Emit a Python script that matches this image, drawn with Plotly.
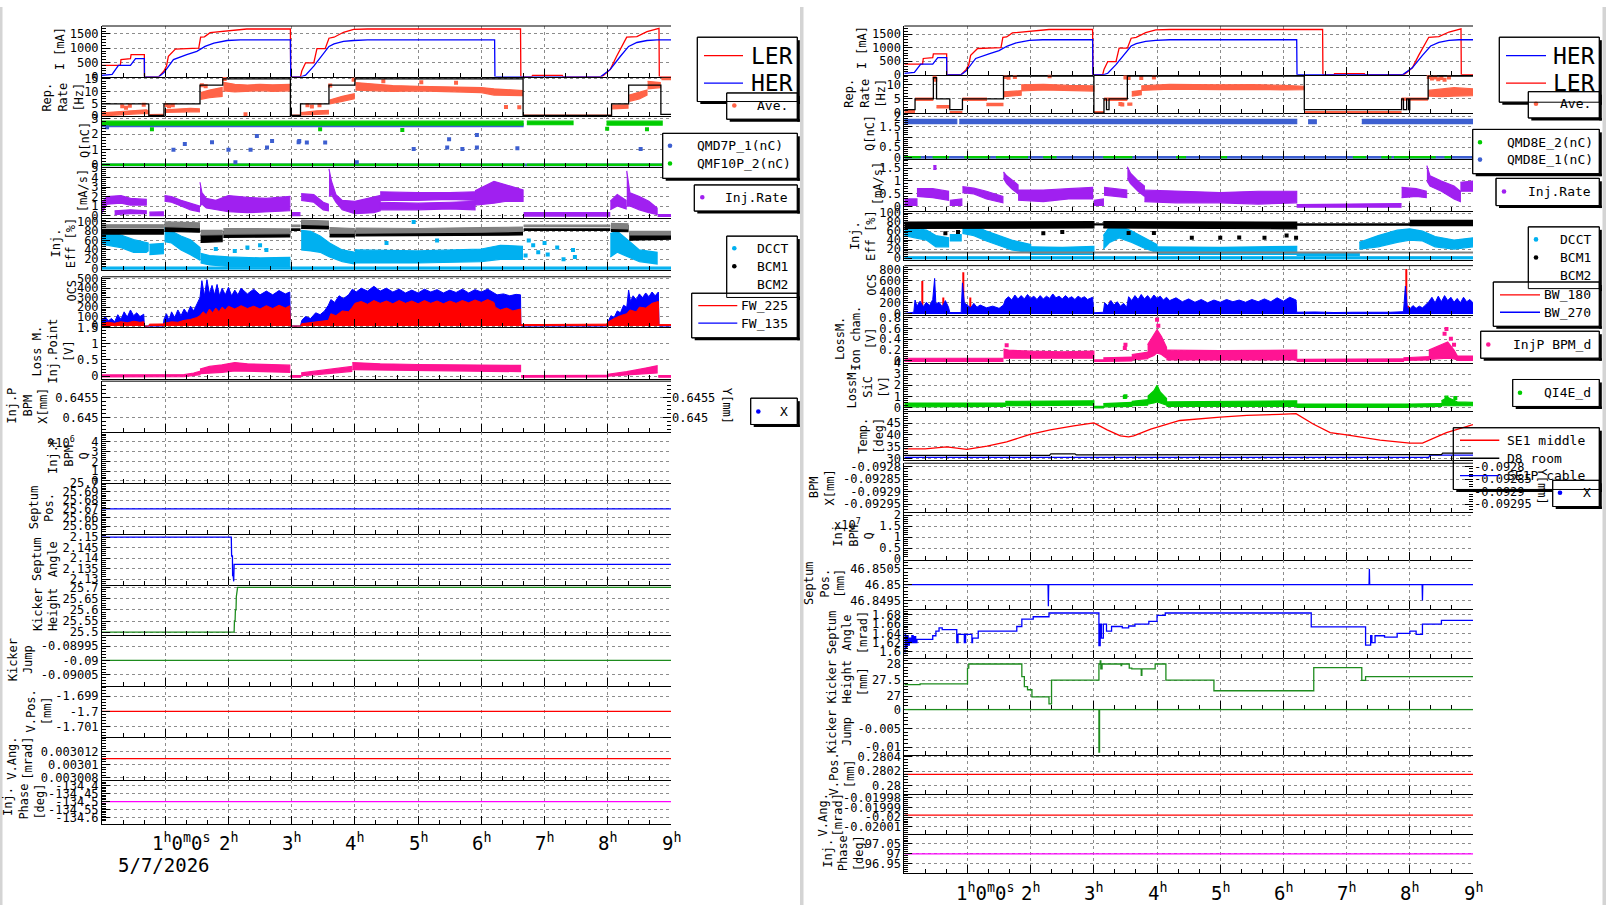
import plotly.graph_objects as go

W, H = 1606, 912
FONT = "DejaVu Sans Mono"

RED = "#ff0000"; BLUE = "#0000ff"; TOMATO = "#ff6347"; QGREEN = "#00cc00"; QBLUE = "#3d5fd0"
PURPLE = "#a020f0"; CYAN = "#00b0f0"; GRAY = "#808080"; PINK = "#ff1493"; KGREEN = "#1e8c1e"
MAGENTA = "#ff00ff"; BLACK = "#000000"; SICGREEN = "#00cc00"; GRID = "#8c8c8c"

# ======================= DATA (time in hours) =======================
LER = [(0,393),(0.29,393),(0.30,600),(0.45,635),(0.46,774),(0.67,774),(0.672,0),(0.90,0),(0.98,196),(1.02,370),
       (1.05,716),(1.16,970),(1.43,990),(1.53,1000),(1.56,1386),(1.62,1400),(1.71,1548),(1.90,1582),(2.03,1605),
       (2.24,1640),(2.29,1675),(2.98,1675),(2.985,0),(3.14,0),(3.16,196),(3.22,485),(3.35,485),(3.40,982),
       (3.53,982),(3.59,1351),(3.67,1386),(3.82,1560),(3.98,1663),(4.2,1675),(6.62,1675),(6.625,0),(6.80,0),
       (6.81,40),(7.28,40),(7.29,0),(7.91,0),(8.04,254),(8.14,716),(8.30,1386),(8.46,1410),(8.62,1582),
       (8.78,1675),(8.81,1700),(8.815,0),(9.0,0)]
HER = [(0,46),(0.16,80),(0.26,393),(0.45,393),(0.53,635),(0.67,635),(0.672,0),(0.90,0),(0.98,139),(1.13,600),
       (1.34,774),(1.50,889),(1.63,1062),(1.77,1178),(1.98,1270),(2.19,1294),(2.98,1294),(2.985,0),(3.16,0),
       (3.22,50),(3.35,370),(3.59,1062),(3.67,1150),(3.82,1236),(3.98,1270),(4.2,1294),(6.21,1294),(6.215,0),
       (7.89,0),(8.04,254),(8.20,716),(8.33,1062),(8.46,1200),(8.62,1270),(8.78,1294),(9.0,1294)]

# ---- left window ----
REP_SET_L = [(0,5),(0.74,0.4),(0.98,5),(1.55,12.5),(1.91,15),(2.98,0.4),(3.14,5),(3.59,12.5),(4.0,15),
             (6.66,0.4),(8.06,5),(8.33,12.5),(8.84,0.8),(9.0,0.8)]
AVE_L = [
    [(0,0.2,1.4),(0.3,0.6,2.0),(0.5,1.0,2.4),(0.7,1.2,2.6),(0.74,1.0,2.2)],
    [(0.75,0.0,0.7),(0.97,0.1,0.8)],
    [(0.99,1.6,2.6),(1.2,1.6,3.0),(1.4,1.8,3.2),(1.54,1.8,3.0)],
    [(1.56,6.8,9.5),(1.7,7.5,10.5),(1.9,8.0,11.5)],
    [(1.92,10.2,13.6),(2.1,9.8,12.8),(2.3,10.0,12.5),(2.5,10.3,12.8),(2.7,10.0,12.6),(2.97,10.2,12.8)],
    [(2.99,0.0,0.5),(3.13,0.0,0.5)],
    [(3.15,0.6,1.5),(3.4,0.8,2.2),(3.58,1.0,2.4)],
    [(3.6,5.0,6.5),(3.8,6.0,8.0),(3.99,7.0,9.0)],
    [(4.01,10.5,13.5),(4.3,10.3,12.8),(4.6,10.0,12.3),(5.0,10.2,12.0),(5.5,9.8,11.8),(6.0,9.5,11.5),
     (6.2,8.5,11.0),(6.65,8.3,10.3)],
    [(6.67,0.0,0.5),(8.05,0.0,0.5)],
    [(8.07,3.0,4.5),(8.32,3.3,4.6)],
    [(8.34,6.0,8.5),(8.5,7.0,9.5),(8.62,8.5,10.5)],
    [(8.63,11.0,14.0),(8.83,11.5,13.5)],
    [(8.85,14.7,15.2),(9.0,14.7,15.2)],
]
AVE_L_OUT = [(0.32,4.0),(0.38,3.4),(0.44,4.2),(0.66,4.6),(1.02,4.5),(1.06,4.0),(1.12,4.4),(1.58,12.4),(1.64,12.0),
             (1.94,14.9),(2.27,0.8),(3.25,4.4),(3.32,3.9),(3.44,4.4),(3.61,12.3),(3.98,14.6),(4.45,14.0),
             (5.05,13.6),(5.6,13.4),(6.39,3.7),(6.6,3.6)]

QB_L_BAND = [[(0,2.5,2.7),(6.66,2.5,2.7)], [(0,-0.05,0.05),(9.0,-0.05,0.05)]]
QG_L_BAND = [[(0,2.6,2.85),(6.66,2.6,2.85)], [(6.72,2.62,2.85),(7.45,2.62,2.85)], [(7.98,2.6,2.85),(8.86,2.6,2.85)],
             [(0,-0.04,0.06),(6.68,-0.04,0.06)], [(6.72,-0.04,0.06),(9.0,-0.04,0.06)]]
QB_L_OUT = [(0.08,2.46),(1.13,0.98),(1.31,1.37),(1.74,1.48),(2.0,0.98),(2.35,0.98),(2.45,1.88),(2.61,1.13),
            (2.69,1.56),(3.11,1.48),(3.12,1.56),(3.24,1.46),(3.53,1.46),(4.93,1.03),(5.46,1.13),(5.49,1.67),
            (5.70,1.03),(5.93,1.95),(5.93,1.13),(6.57,1.09),(8.52,1.03),(2.11,0.17),(4.03,0.17)]
QG_L_OUT = [(0.79,2.33),(3.45,2.33),(4.75,2.27),(7.99,2.36),(8.62,2.33)]

RATE_L = [
    [(0,0.3,1.4),(0.08,1.2,2.0),(0.3,1.3,2.1),(0.45,1.1,1.8),(0.7,1.1,1.7)],
    [(0.2,0.1,0.5),(0.45,0.2,0.6),(0.7,0.2,0.5)],
    [(0.75,0.0,0.35),(0.97,0.0,0.4)],
    [(0.99,1.5,2.1),(1.1,1.4,2.0),(1.25,1.0,1.6),(1.4,0.6,1.3),(1.54,0.4,1.0)],
    [(1.55,1.0,3.5),(1.58,1.2,2.4),(1.65,0.8,1.8),(1.8,0.6,1.6),(2.0,0.4,2.1),(2.3,0.3,1.9),(2.6,0.4,1.8),(2.97,0.5,2.0)],
    [(2.99,0.0,0.3),(3.13,0.0,0.3)],
    [(3.15,1.6,2.3),(3.35,1.4,2.2),(3.5,0.6,1.4),(3.58,0.5,1.2)],
    [(3.59,2.0,4.9),(3.63,2.2,3.6),(3.7,1.4,2.2),(3.8,0.6,1.6),(4.0,0.2,1.5),(4.3,0.3,1.9),(4.4,0.5,2.1)],
    [(4.4,1.6,2.5),(5.0,1.6,2.4),(5.5,1.7,2.4),(5.9,1.6,2.5)],
    [(4.4,0.6,1.4),(5.0,0.6,1.3),(5.5,0.7,1.4),(5.9,0.6,1.5)],
    [(5.9,1.1,2.6),(6.2,1.3,3.6),(6.4,1.5,3.2),(6.66,1.5,2.7)],
    [(6.67,-0.05,0.3),(8.03,-0.05,0.3)],
    [(8.04,0.6,1.5),(8.15,1.0,2.2),(8.29,0.7,1.6)],
    [(8.3,1.0,4.7),(8.35,1.0,2.4),(8.5,0.6,2.0),(8.65,0.3,1.5),(8.78,0.1,0.8)],
    [(8.79,-0.1,0.1),(9.0,-0.1,0.1)],
]

CYAN_L = [
    [(0,52,80),(0.3,45,72),(0.5,35,62),(0.7,35,55),(0.73,38,55)],
    [(0.75,30,52),(0.97,32,54)],
    [(0.99,58,88),(1.1,55,80),(1.25,40,70),(1.4,30,62),(1.55,18,45)],
    [(1.56,12,33),(1.7,8,28),(2.0,5,25),(2.5,5,23),(2.97,5,24)],
    [(3.15,40,82),(3.3,38,80),(3.45,35,70),(3.6,25,55),(3.8,15,40),(4.0,10,35)],
    [(4.0,12,40),(5.0,12,38),(6.0,15,42),(6.3,20,50),(6.65,20,48)],
    [(8.04,25,75),(8.15,35,80),(8.33,25,60),(8.5,15,40),(8.78,10,35)],
    [(0,-2,3),(9.0,-2,3)],
]
CYAN_L_OUT = [(6.7,28),(6.75,60),(6.82,50),(6.9,35),(7.0,55),(7.05,30),(7.2,45),(7.3,20),(7.45,40),(7.48,25),
              (2.3,45),(2.6,40),(5.05,80),(5.3,60),(4.5,55),(1.8,42),(2.1,38),(2.5,50),(4.93,100)]
BLACK_L = [
    [(0,74,84),(0.97,74,84)], [(0.99,80,95),(1.54,78,92)], [(1.56,56,72),(1.9,58,74)],
    [(1.92,67,79),(2.97,68,80)], [(2.99,82,85),(3.13,82,85)], [(3.15,86,99),(3.58,85,97)],
    [(3.6,68,82),(3.99,68,80)], [(4.01,70,83),(6.65,72,84)], [(6.67,82,85),(8.03,82,85)],
    [(8.05,80,93),(8.32,79,92)], [(8.34,61,76),(9.0,63,75)],
]
GRAY_L = [
    [(0,88,94),(0.97,88,94)], [(0.99,90,100),(1.54,88,98)], [(1.56,72,82),(1.9,73,82)],
    [(1.92,74,86),(2.97,75,85)], [(2.99,90,93),(3.13,90,93)], [(3.15,95,104),(3.58,93,102)],
    [(3.6,76,88),(3.99,76,86)], [(4.01,76,87),(5.0,77,86),(6.0,78,88),(6.65,80,89)],
    [(6.67,90,93),(8.03,90,93)], [(8.05,86,97),(8.32,85,96)], [(8.34,72,80),(9.0,72,80)],
]

OCS_BLUE_L = [(0,60),(0.05,100),(0.1,55),(0.15,80),(0.2,45),(0.25,120),(0.3,70),(0.35,150),(0.4,95),(0.45,170),
              (0.5,110),(0.55,140),(0.6,100),(0.66,125),(0.67,0),(0.97,0),(0.98,70),(1.02,130),(1.06,60),(1.1,150),
              (1.15,90),(1.2,170),(1.25,110),(1.3,180),(1.35,130),(1.4,210),(1.45,160),(1.5,240),(1.55,300),
              (1.58,480),(1.62,320),(1.66,490),(1.7,340),(1.74,430),(1.78,330),(1.82,440),(1.86,320),(1.9,400),
              (1.95,330),(2.0,410),(2.05,320),(2.1,380),(2.15,330),(2.2,400),(2.3,340),(2.4,390),(2.5,330),
              (2.6,370),(2.7,330),(2.8,375),(2.9,340),(2.97,360),(2.98,0),(3.14,0),(3.16,60),(3.22,100),(3.3,80),
              (3.38,140),(3.45,120),(3.52,160),(3.58,220),(3.62,280),(3.68,250),(3.75,320),(3.82,290),(3.9,330),
              (3.96,390),(4.02,360),(4.1,400),(4.2,370),(4.3,420),(4.4,370),(4.5,400),(4.6,360),(4.7,390),
              (4.8,350),(4.9,380),(5.0,350),(5.1,390),(5.2,360),(5.3,385),(5.4,350),(5.5,380),(5.6,355),(5.7,390),
              (5.8,350),(5.9,385),(6.0,360),(6.1,390),(6.2,350),(6.25,330),(6.35,340),(6.45,320),(6.55,335),
              (6.62,330),(6.625,0),(7.98,0),(8.0,40),(8.05,110),(8.1,90),(8.15,160),(8.2,140),(8.25,220),(8.3,200),
              (8.33,380),(8.36,260),(8.4,320),(8.45,280),(8.5,340),(8.55,300),(8.6,350),(8.65,310),(8.7,360),
              (8.75,320),(8.8,360),(8.81,0),(9.0,0)]
OCS_RED_L = [(0,30),(0.1,40),(0.2,30),(0.3,45),(0.4,35),(0.5,50),(0.6,40),(0.66,45),(0.67,0),(0.74,0),(0.75,20),
             (0.97,22),(0.98,30),(1.1,45),(1.2,40),(1.3,60),(1.4,70),(1.5,90),(1.55,110),(1.6,150),(1.65,120),
             (1.7,180),(1.75,140),(1.8,190),(1.85,150),(1.9,200),(1.95,170),(2.0,210),(2.1,180),(2.2,215),
             (2.3,185),(2.4,210),(2.5,180),(2.6,215),(2.7,185),(2.8,220),(2.9,190),(2.97,215),(2.98,0),(3.14,0),
             (3.16,25),(3.3,35),(3.45,50),(3.58,60),(3.62,130),(3.7,110),(3.8,160),(3.9,150),(3.96,200),(4.0,240),
             (4.1,260),(4.2,230),(4.3,270),(4.4,240),(4.5,265),(4.6,235),(4.7,270),(4.8,240),(4.9,265),(5.0,235),
             (5.1,270),(5.2,240),(5.3,265),(5.4,235),(5.5,265),(5.6,240),(5.7,270),(5.8,245),(5.9,275),(6.0,250),
             (6.1,280),(6.2,250),(6.22,200),(6.3,170),(6.4,190),(6.5,160),(6.62,180),(6.625,15),(7.98,20),
             (8.0,40),(8.1,80),(8.2,110),(8.3,130),(8.35,170),(8.45,150),(8.5,200),(8.6,190),(8.7,240),(8.8,260),
             (8.81,15),(9.0,15)]

LOSS_L = [
    [(0,-0.02,0.04),(1.3,-0.01,0.05),(1.45,0.02,0.1),(1.55,0.05,0.15)],
    [(1.55,0.08,0.22),(1.7,0.1,0.3),(1.9,0.12,0.35),(2.1,0.16,0.42),(2.3,0.15,0.38),(2.6,0.14,0.36),(2.97,0.12,0.34)],
    [(2.98,-0.03,0.02),(3.14,-0.03,0.02)],
    [(3.15,0.02,0.1),(3.4,0.05,0.16),(3.6,0.08,0.2),(3.95,0.15,0.3)],
    [(3.96,0.2,0.42),(4.4,0.18,0.38),(5.0,0.17,0.36),(5.6,0.16,0.35),(6.2,0.15,0.35),(6.62,0.14,0.33)],
    [(6.63,-0.03,0.02),(8.0,-0.02,0.03)],
    [(8.0,0.0,0.06),(8.3,0.04,0.14),(8.6,0.08,0.25),(8.78,0.1,0.32)],
    [(8.8,-0.03,0.02),(9.0,-0.03,0.02)],
]

SEPT_POS_L = [(0,25.670),(9.0,25.670)]
SEPT_ANG_L = [(0,2.15),(2.045,2.15),(2.05,2.141),(2.063,2.141),(2.066,2.1317),(2.075,2.1317),(2.083,2.1289),
              (2.09,2.137),(9.0,2.137)]
KICK_H_L = [(0,25.5),(2.09,25.5),(2.095,25.55),(2.105,25.55),(2.11,25.6),(2.12,25.6),(2.125,25.66),
            (2.14,25.68),(2.145,25.7),(9.0,25.7)]
KICK_J_L = [(0,-0.09),(9.0,-0.09)]
VPOS_L = [(0,-1.7),(9.0,-1.7)]
VANG_L = [(0,0.0030109),(9.0,0.0030109)]
PHASE_L = [(0,-134.5),(9.0,-134.5)]

# ---- right window ----
REP_SET_R = [(0,1.2),(0.17,5),(0.46,12.5),(0.51,5),(0.72,1.2),(0.92,5),(1.57,13.1),(3.0,0),(3.16,5),(3.2,1.2),
             (3.24,5),(3.53,13.1),(6.33,1.2),(7.87,5),(7.9,1.2),(7.95,5),(7.98,1.2),(8.0,5),(8.29,13.1),(9.0,13.1)]
AVE_R = [
    [(0,0.2,1.2),(0.16,0.2,1.2)], [(0.17,4.5,5.3),(0.45,4.5,5.3)], [(0.51,1.8,2.6),(0.71,1.8,2.6)],
    [(0.72,0.0,0.5),(0.91,0.0,0.5)], [(0.92,4.5,5.3),(1.3,4.5,5.3)], [(1.3,2.6,3.4),(1.56,2.6,3.4)],
    [(1.57,5.8,7.5),(1.85,6.3,7.9)], [(1.85,7.8,10.0),(2.2,8.2,10.2),(2.6,8.0,9.8),(3.0,7.8,9.6)],
    [(3.0,0.0,0.5),(3.15,0.0,0.5)], [(3.16,4.5,5.3),(3.52,4.5,5.3)], [(3.53,2.8,3.5),(3.6,2.8,3.5)],
    [(3.6,6.0,7.6),(3.75,6.5,8.0)],
    [(3.75,8.0,9.6),(4.2,8.5,10.2),(5.0,8.3,10.0),(5.5,8.4,10.1),(6.0,8.2,9.8),(6.33,8.3,9.5)],
    [(6.33,0.0,0.5),(7.86,0.0,0.5)], [(7.87,4.6,5.3),(8.28,4.6,5.3)],
    [(8.29,6.0,8.0),(8.5,5.8,8.4),(8.7,6.0,9.0),(9.0,6.2,8.6)],
]
AVE_R_OUT = [(0.48,12.5),(0.49,11.8),(1.6,12.8),(1.65,12.5),(1.75,12.8),(2.3,13.0),(3.5,12.6),(3.55,12.4),
             (3.75,12.4),(3.95,12.6),(8.3,12.8),(8.35,12.2),(8.4,12.6),(8.45,12.0),(8.5,12.4),(8.55,11.8),
             (8.62,12.6),(3.42,3.2),(3.45,3.0)]

QB_R_BAND = [[(0,1.66,1.87),(0.83,1.66,1.87)], [(0.87,1.66,1.87),(6.21,1.66,1.87)],
             [(6.39,1.66,1.85),(6.52,1.66,1.85)], [(7.24,1.66,1.87),(9.0,1.66,1.87)],
             [(0,-0.04,0.04),(9.0,-0.04,0.04)]]
QG_R_BAND = [[(0.0,-0.03,0.04),(0.25,-0.03,0.04)], [(0.45,-0.03,0.04),(0.7,-0.03,0.04)],
             [(0.95,-0.03,0.04),(1.35,-0.03,0.04)], [(1.45,-0.03,0.04),(1.95,-0.03,0.04)],
             [(2.2,-0.03,0.04),(2.4,-0.03,0.04)], [(3.15,-0.03,0.04),(3.6,-0.03,0.04)],
             [(4.3,-0.03,0.04),(4.45,-0.03,0.04)], [(5.0,-0.03,0.04),(5.1,-0.03,0.04)],
             [(7.1,-0.03,0.04),(7.3,-0.03,0.04)], [(7.55,-0.03,0.04),(7.7,-0.03,0.04)],
             [(7.75,-0.03,0.04),(8.4,-0.03,0.04)], [(8.55,-0.03,0.04),(8.65,-0.03,0.04)]]

RATE_R = [
    [(0,0.05,0.3),(0.2,0.05,0.3)],
    [(0.2,0.4,0.7),(0.45,0.35,0.7),(0.7,0.25,0.6)],
    [(0.46,1.45,1.6),(0.5,1.45,1.6)],
    [(0.72,0.05,0.25),(0.91,0.05,0.3)],
    [(0.92,0.55,0.78),(1.1,0.5,0.72),(1.3,0.3,0.6),(1.56,0.15,0.4)],
    [(1.57,1.1,1.35),(1.62,0.9,1.2),(1.7,0.7,1.05),(1.8,0.5,0.85)],
    [(1.8,0.25,0.65),(2.2,0.2,0.65),(2.6,0.3,0.7),(2.98,0.3,0.75)],
    [(3.0,0.05,0.25),(3.15,0.05,0.3)],
    [(3.16,0.45,0.75),(3.52,0.35,0.65)],
    [(3.53,1.1,1.55),(3.58,0.9,1.3),(3.7,0.6,1.0),(3.8,0.4,0.8)],
    [(3.8,0.2,0.65),(4.3,0.15,0.6),(5.0,0.15,0.55),(5.6,0.1,0.6),(6.21,0.15,0.6)],
    [(6.21,-0.02,0.08),(7.86,-0.02,0.12)],
    [(7.87,0.35,0.75),(8.1,0.4,0.7),(8.26,0.35,0.6)],
    [(8.27,1.0,1.6),(8.32,0.8,1.2),(8.5,0.6,1.0),(8.7,0.3,0.8),(8.8,0.2,0.6)],
    [(8.8,0.6,0.95),(9.0,0.6,1.0)],
]

CYAN_R = [
    [(0,50,68),(0.17,45,66),(0.35,40,62),(0.5,25,50),(0.7,25,45)],
    [(0.72,38,52),(0.9,38,52)],
    [(0.92,55,75),(1.1,50,72),(1.3,38,60),(1.5,28,50),(1.7,18,40),(2.0,12,30)],
    [(2.0,8,25),(2.5,8,24),(3.0,8,26)],
    [(3.15,20,50),(3.25,35,70),(3.4,45,72),(3.6,35,60),(3.8,22,45),(4.0,12,30)],
    [(4.0,8,25),(5.0,8,24),(6.21,8,26)],
    [(6.21,6,10),(7.2,6,10)],
    [(7.2,20,35),(7.5,25,50),(7.8,35,62),(8.0,40,65),(8.2,38,60),(8.4,25,48),(8.7,20,40),(9.0,25,45)],
    [(0,-2,3),(9.0,-2,3)],
]
BLACK_R = [[(0,66,80),(3.0,67,81)], [(3.0,74,76),(3.15,74,76)], [(3.15,67,81),(6.21,65,80)],
           [(6.21,73,76),(8.0,73,76)], [(8.0,72,84),(9.0,72,84)]]
BLACK_R_OUT = [(0.65,55),(0.85,58),(2.2,55),(2.5,58),(3.55,56),(3.95,56),(4.55,45),(5.0,45),(5.3,46),(5.7,45),
               (6.05,50),(6.2,45)]
GRAY_R = [[(0,11.5,13.5),(9.0,11.5,13.5)]]

OCS_BLUE_R = [(0,10),(0.15,30),(0.17,250),(0.2,140),(0.25,230),(0.3,130),(0.35,210),(0.4,150),(0.45,260),
              (0.48,640),(0.5,180),(0.55,210),(0.6,130),(0.65,240),(0.7,120),(0.72,25),(0.9,25),(0.92,560),
              (0.95,200),(1.0,160),(1.05,110),(1.1,190),(1.15,120),(1.2,160),(1.3,110),(1.4,140),(1.5,100),
              (1.57,160),(1.6,260),(1.65,310),(1.7,250),(1.75,340),(1.8,270),(1.85,330),(1.9,270),(1.95,350),
              (2.0,280),(2.05,320),(2.1,260),(2.15,330),(2.2,270),(2.25,320),(2.3,280),(2.35,360),(2.4,290),
              (2.45,320),(2.5,270),(2.55,330),(2.6,280),(2.65,310),(2.7,260),(2.75,320),(2.8,280),(2.85,310),
              (2.9,260),(2.98,300),(3.0,20),(3.15,30),(3.17,200),(3.22,150),(3.27,240),(3.32,160),(3.37,220),
              (3.42,140),(3.47,190),(3.52,120),(3.55,310),(3.6,240),(3.65,330),(3.7,260),(3.75,350),(3.8,270),
              (3.85,330),(3.9,260),(3.95,340),(4.0,280),(4.05,320),(4.1,250),(4.15,300),(4.2,240),(4.3,290),
              (4.4,220),(4.5,270),(4.6,210),(4.7,260),(4.8,200),(4.9,250),(5.0,210),(5.1,260),(5.2,220),
              (5.3,250),(5.4,210),(5.5,260),(5.6,220),(5.7,270),(5.8,220),(5.9,290),(6.0,230),(6.1,300),
              (6.2,250),(6.21,30),(6.5,35),(6.8,25),(7.1,30),(7.4,25),(7.7,30),(7.9,40),(7.93,500),(7.96,120),
              (8.0,90),(8.05,150),(8.1,100),(8.15,140),(8.2,110),(8.25,160),(8.3,220),(8.35,300),(8.4,200),
              (8.45,320),(8.5,220),(8.55,330),(8.6,240),(8.65,300),(8.7,210),(8.75,280),(8.8,200),(8.85,300),
              (8.9,220),(8.95,260),(9.0,200)]
OCS_RED_R = [(0.28,592),(0.62,296),(0.94,752),(1.05,296),(1.7,90),(2.3,80),(2.45,70),(3.26,237),(3.63,90),
             (7.95,810),(7.98,148),(8.05,89),(8.6,80),(8.75,90)]

ION_R = [
    [(0,-0.01,0.05),(1.56,-0.01,0.05)],
    [(1.57,0.05,0.22),(1.65,0.06,0.2),(2.0,0.05,0.18),(2.5,0.05,0.17),(3.0,0.05,0.18)],
    [(3.0,-0.01,0.02),(3.15,-0.01,0.02)],
    [(3.15,-0.01,0.06),(3.6,0.0,0.07)],
    [(3.6,0.02,0.12),(3.85,0.04,0.16)],
    [(3.85,0.05,0.3),(3.95,0.1,0.5),(4.0,0.15,0.58),(4.07,0.12,0.45),(4.15,0.05,0.25)],
    [(4.15,0.02,0.2),(5.0,0.02,0.19),(6.21,0.02,0.2)],
    [(6.21,-0.01,0.03),(7.9,-0.01,0.04)],
    [(7.9,0.01,0.06),(8.3,0.02,0.08)],
    [(8.3,0.03,0.2),(8.5,0.04,0.3),(8.6,0.05,0.35),(8.7,0.04,0.2),(8.75,0.02,0.1)],
    [(8.75,0.01,0.09),(9.0,0.01,0.09)],
]
ION_R_OUT = [(1.62,0.29),(3.49,0.24),(3.5,0.3),(4.0,0.76),(4.02,0.65),(8.58,0.59),(8.55,0.5),(8.65,0.41),(8.7,0.3)]

SIC_R = [
    [(0,0.05,0.4),(1.6,0.1,0.4)],
    [(1.6,0.15,0.55),(3.0,0.2,0.6)],
    [(3.0,-0.05,0.1),(3.15,-0.05,0.1)],
    [(3.15,0.05,0.35),(3.6,0.1,0.45)],
    [(3.6,0.15,0.55),(3.85,0.2,0.7)],
    [(3.85,0.3,1.0),(3.95,0.4,1.5),(4.0,0.5,2.0),(4.05,0.4,1.4),(4.15,0.2,0.8)],
    [(4.15,0.1,0.5),(5.0,0.1,0.55),(6.21,0.1,0.6)],
    [(6.21,0.0,0.3),(8.0,0.0,0.3)],
    [(8.0,0.05,0.3),(8.5,0.1,0.35)],
    [(8.5,0.15,0.6),(8.6,0.2,0.9),(8.75,0.15,0.5),(9.0,0.15,0.45)],
]
SIC_R_OUT = [(3.49,0.95),(3.5,1.0),(8.58,0.9),(8.72,0.85)]

TEMP_SE1 = [(0,34.0),(0.33,34.0),(0.67,34.9),(0.99,33.8),(1.31,35.2),(1.62,37.0),(1.99,40.3),(2.31,42.2),
            (2.68,43.9),(3.0,45.2),(3.21,42.2),(3.42,39.6),(3.55,39.2),(3.63,39.6),(3.9,42.5),(4.2,45.0),
            (4.36,46.2),(5.0,47.6),(5.42,48.4),(5.94,48.8),(6.2,49.1),(6.47,44.7),(6.74,41.0),(7.0,40.0),
            (7.53,37.8),(8.0,36.5),(8.2,36.5),(8.58,41.0),(8.9,43.7),(9.0,44.4)]
TEMP_D8 = [(0,31.3),(2.3,31.3),(2.32,31.9),(2.7,31.9),(2.72,31.5),(6.2,31.5),(6.22,31.3),(8.0,31.3),
           (8.02,31.6),(8.5,31.6),(8.52,32.2),(9.0,32.2)]
TEMP_CABLE = [(0,30.4),(8.3,30.4),(8.32,31.4),(9.0,31.4)]

SEPT_POS_R = [(0,46.85),(2.275,46.85),(2.28,46.84932),(2.285,46.85),(7.355,46.85),(7.36,46.8505),(7.365,46.85),
              (8.195,46.85),(8.2,46.8495),(8.205,46.85),(9.0,46.85)]
SEPT_ANG_R = [(0,1.60),(0.01,1.64),(0.02,1.61),(0.04,1.635),(0.06,1.615),(0.08,1.63),(0.1,1.62),(0.12,1.635),
              (0.14,1.62),(0.16,1.633),(0.18,1.62),(0.2,1.627),(0.45,1.635),(0.5,1.645),(0.55,1.652),(0.6,1.648),
              (0.83,1.62),(0.85,1.638),(0.95,1.62),(0.97,1.638),(1.07,1.62),(1.08,1.63),(1.17,1.645),(1.78,1.655),
              (1.86,1.671),(2.04,1.676),(2.29,1.684),(3.08,1.614),(3.1,1.66),(3.12,1.63),(3.15,1.66),(3.2,1.645),
              (3.28,1.655),(3.45,1.652),(3.55,1.656),(3.65,1.66),(3.87,1.666),(4.0,1.679),(4.13,1.684),
              (6.44,1.654),(7.3,1.615),(7.38,1.635),(7.4,1.62),(7.45,1.635),(7.6,1.632),(7.8,1.64),(8.0,1.645),
              (8.1,1.638),(8.2,1.66),(8.5,1.668),(9.0,1.668)]
KICK_H_R = [(0,27.36),(0.25,27.38),(1.0,27.87),(1.02,28.0),(1.86,27.61),(1.9,27.3),(1.95,27.2),(2.02,26.98),
            (2.29,26.76),(2.33,27.5),(3.08,28.0),(3.1,28.1),(3.11,27.85),(3.13,28.0),(3.43,27.95),(3.44,28.0),
            (3.56,27.87),(3.6,27.85),(3.75,27.65),(3.76,27.85),(3.97,28.0),(4.14,27.5),(4.9,27.17),(6.48,27.89),
            (7.24,27.49),(7.3,27.61),(9.0,27.61)]
KICK_J_R = [(0,0.0),(3.08,-0.0113),(3.09,0.0),(9.0,0.0)]
VPOS_R = [(0,0.280156),(9.0,0.280156)]
VANG_R = [(0,-0.019998),(9.0,-0.019998)]
PHASE_R = [(0,97.0),(9.0,97.0)]

HOURS = [0, 1, 2, 3, 4, 5, 6, 7, 8, 9]

# ======================= LAYOUT CONFIG =======================
COLS = {"L": (102.0, 671.0), "R": (904.3, 1473.0)}
PANELS = [
    dict(key="L1", col="L", top=19.3, bot=70.7, yr=[0, 1780], tv=[0, 500, 1000, 1500], mdt=100),
    dict(key="L2", col="L", top=70.7, bot=111, yr=[0, 15.9], tv=[0, 5, 10, 15], mdt=1),
    dict(key="L3", col="L", top=111, bot=163, yr=[-0.17, 3.17], tv=[0, 1, 2, 3], mdt=0.2),
    dict(key="L4", col="L", top=163, bot=214.7, yr=[-0.3, 5.05], tv=[0, 1, 2, 3, 4, 5], mdt=0.2),
    dict(key="L5", col="L", top=214.7, bot=266.7, yr=[-2.1, 107.6], tv=[0, 20, 40, 60, 80, 100], mdt=4),
    dict(key="L6", col="L", top=274, bot=325.3, yr=[-13.5, 521], tv=[0, 100, 200, 300, 400, 500], mdt=20),
    dict(key="L7", col="L", top=325.3, bot=378.3, yr=[-0.1, 1.5], tv=[0, 0.5, 1, 1.5], mdt=0.1),
    dict(key="L8", col="L", top=380, bot=431.7, yr=[0.644625, 0.64592], tv=[0.645, 0.6455], mdt=0.0001),
    dict(key="L9", col="L", top=431.7, bot=483, yr=[-0.17, 5.0], tv=[0, 1, 2, 3, 4], mdt=0.2),
    dict(key="L10", col="L", top=483, bot=535, yr=[25.641, 25.7006], tv=[25.65, 25.66, 25.67, 25.68, 25.69, 25.7], mdt=0.002),
    dict(key="L11", col="L", top=535, bot=586.7, yr=[2.1273, 2.1516], tv=[2.13, 2.135, 2.14, 2.145, 2.15], mdt=0.001),
    dict(key="L12", col="L", top=586.7, bot=637.7, yr=[25.488, 25.712], tv=[25.5, 25.55, 25.6, 25.65, 25.7], mdt=0.01),
    dict(key="L13", col="L", top=637.7, bot=689.3, yr=[-0.0900875, -0.0899114], tv=[-0.09005, -0.09, -0.08995], mdt=0.00001),
    dict(key="L14", col="L", top=689.3, bot=741.3, yr=[-1.70167, -1.69831], tv=[-1.701, -1.7, -1.699], mdt=0.0002),
    dict(key="L15", col="L", top=741.3, bot=785, yr=[0.00300765, 0.0030142], tv=[0.003008, 0.00301, 0.003012], mdt=0.0000004),
    dict(key="L16", col="L", top=785, bot=829.3, yr=[-134.636, -134.366], tv=[-134.6, -134.55, -134.5, -134.45, -134.4], mdt=0.01),
    dict(key="R1", col="R", top=19.3, bot=68.7, yr=[0, 1805], tv=[0, 500, 1000, 1500], mdt=100),
    dict(key="R2", col="R", top=68.7, bot=107.7, yr=[0, 13.6], tv=[0, 5, 10], mdt=1),
    dict(key="R3", col="R", top=107.7, bot=154, yr=[-0.065, 2.18], tv=[0, 0.5, 1, 1.5, 2], mdt=0.1),
    dict(key="R4", col="R", top=154, bot=206.7, yr=[-0.15, 1.87], tv=[0, 0.5, 1, 1.5], mdt=0.1),
    dict(key="R5", col="R", top=206.7, bot=256.7, yr=[-3.7, 105.7], tv=[0, 20, 40, 60, 80, 100], mdt=4),
    dict(key="R6", col="R", top=262.7, bot=312.7, yr=[-18, 870], tv=[0, 200, 400, 600, 800], mdt=40),
    dict(key="R7", col="R", top=312.7, bot=361.7, yr=[-0.04, 0.85], tv=[0, 0.2, 0.4, 0.6, 0.8], mdt=0.04),
    dict(key="R8", col="R", top=361.7, bot=410.7, yr=[-0.36, 4.0], tv=[0, 1, 2, 3, 4], mdt=0.2),
    dict(key="R9", col="R", top=410.7, bot=460, yr=[29.3, 50.1], tv=[30, 35, 40, 45], mdt=1),
    dict(key="R10", col="R", top=463.3, bot=512.7, yr=[-0.09298, -0.092787], tv=[-0.09295, -0.0929, -0.09285, -0.0928], mdt=0.00001),
    dict(key="R11", col="R", top=512.7, bot=561.7, yr=[-0.04, 2.15], tv=[0, 0.5, 1, 1.5, 2], mdt=0.1),
    dict(key="R12", col="R", top=561.7, bot=611.7, yr=[46.84922, 46.85078], tv=[46.8495, 46.85, 46.8505], mdt=0.0001),
    dict(key="R13", col="R", top=611.7, bot=660.7, yr=[1.588, 1.692], tv=[1.6, 1.62, 1.64, 1.66, 1.68], mdt=0.004),
    dict(key="R14", col="R", top=660.7, bot=712.7, yr=[26.61, 28.2], tv=[27, 27.5, 28], mdt=0.1),
    dict(key="R15", col="R", top=712.7, bot=759.3, yr=[-0.012, 0.0002], tv=[-0.01, -0.005, 0], mdt=0.001),
    dict(key="R16", col="R", top=759.3, bot=799.3, yr=[0.27988, 0.280432], tv=[0.28, 0.2802, 0.2804], mdt=0.00004),
    dict(key="R17", col="R", top=799.3, bot=840, yr=[-0.0200176, -0.019976], tv=[-0.02001, -0.02, -0.01999, -0.01998], mdt=0.000002),
    dict(key="R18", col="R", top=840, bot=880, yr=[96.9, 97.1], tv=[96.95, 97, 97.05], mdt=0.01),
]
# panels whose top edge is not shared with the panel above
TOP_EDGE = ["L1", "L6", "L8", "R1", "R6", "R10"]
TITLES = [
    ("L1", "I [mA]", 60, 42), ("L2", "Rep.<br>Rate<br>[Hz]", 63, 91), ("L3", "Q[nC]", 85, 135),
    ("L4", "[mA/s]", 83, 187), ("L5", "Inj.<br>Eff [%]", 64, 240), ("L6", "OCS", 72, 288),
    ("L7", "Loss M.<br>Inj.Point<br>[V]", 53, 350), ("L8", "Inj.P<br>BPM<br>X[mm]", 28, 405),
    ("L9", "Inj.P<br>BPM<br>Q", 68, 456), ("L10", "Septum<br>Pos.", 42, 509), ("L11", "Septum<br>Angle", 45.5, 561),
    ("L12", "Kicker<br>Height", 45.5, 612), ("L13", "Kicker<br>Jump", 20.5, 663), ("L14", "V.Pos.<br>[mm]", 39.5, 715),
    ("L15", "V.Ang.<br>[mrad]", 20.5, 763), ("L16", "Inj.<br>Phase<br>[deg]", 24, 807),
    ("R1", "I [mA]", 862, 42), ("R2", "Rep.<br>Rate<br>[Hz]", 865, 88), ("R3", "Q[nC]", 870, 128),
    ("R4", "[mA/s]", 878, 180), ("R5", "Inj.<br>Eff [%]", 863.5, 232), ("R6", "OCS", 872, 282),
    ("R7", "LossM.<br>Ion cham.<br>[V]", 856, 337), ("R8", "LossM.<br>SiC<br>[V]", 867.5, 386),
    ("R9", "Temp.<br>[deg]", 871.5, 435), ("R10", "BPM<br>X[mm]", 822, 488), ("R11", "Inj<br>BPM<br>Q", 854, 537),
    ("R12", "Septum<br>Pos.<br>[mm]", 824, 586), ("R13", "Septum<br>Angle<br>[mrad]", 847, 636),
    ("R14", "Kicker<br>Height<br>[mm]", 847, 686), ("R15", "Kicker<br>Jump", 839.5, 736),
    ("R16", "V.Pos.<br>[mm]", 842.5, 779), ("R17", "V.Ang.<br>[mrad]", 831, 820),
    ("R18", "Inj.<br>Phase<br>[deg]", 843.5, 860),
]


def px(x):
    return x / W


def py(y):
    return 1 - y / H


fig = go.Figure()
lay = dict(width=W, height=H, margin=dict(l=0, r=0, t=0, b=0, pad=0), paper_bgcolor="white",
           plot_bgcolor="white", showlegend=False, font=dict(family=FONT, size=12, color="black"),
           barmode="overlay", hovermode=False)
AX, PD = {}, {}
for i, p in enumerate(PANELS, start=1):
    s = "" if i == 1 else str(i)
    x0, x1 = COLS[p["col"]]
    lay["xaxis" + s] = dict(
        domain=[x0 / W, x1 / W], range=[0, 9], anchor="y" + s, tickmode="array", tickvals=HOURS,
        showticklabels=False, ticks="inside", ticklen=8, tickwidth=1, tickcolor="black",
        minor=dict(ticks="inside", ticklen=4, tickwidth=1, tickcolor="black", tickmode="linear", tick0=0,
                   dtick=1 / 3, showgrid=False),
        showgrid=True, gridcolor=GRID, griddash="3px,3px", gridwidth=1, showline=True, linecolor="black",
        linewidth=1, mirror=False, zeroline=False, fixedrange=True)
    lay["yaxis" + s] = dict(
        domain=[py(p["bot"]), py(p["top"])], range=p["yr"], anchor="x" + s, tickmode="array",
        tickvals=p["tv"], ticktext=[f"{v:g}" for v in p["tv"]], ticks="inside", ticklen=8, tickwidth=1,
        tickcolor="black",
        minor=dict(ticks="inside", ticklen=4, tickwidth=1, tickcolor="black", tickmode="linear",
                   tick0=p["tv"][0], dtick=p["mdt"], showgrid=False),
        showgrid=True, gridcolor=GRID, griddash="3px,3px", gridwidth=1, showline=True, linecolor="black",
        linewidth=1, zeroline=False, fixedrange=True, tickfont=dict(size=12, family=FONT))
    AX[p["key"]] = ("x" + s, "y" + s)
    PD[p["key"]] = p
    fig.add_trace(go.Scatter(x=[None], y=[None], xaxis="x" + s, yaxis="y" + s, mode="lines"))

# right-side Y axes for the BPM X panels
k = len(PANELS)
for key in ["L8", "R10"]:
    k += 1
    xa, ya = AX[key]
    p = PD[key]
    lay["yaxis%d" % k] = dict(
        overlaying=ya, side="right", anchor=xa, range=p["yr"], tickmode="array", tickvals=p["tv"],
        ticktext=[f"{v:g}" for v in p["tv"]], ticks="inside", ticklen=8, tickcolor="black",
        minor=dict(ticks="inside", ticklen=4, tickcolor="black", tickmode="linear", tick0=p["tv"][0], dtick=p["mdt"], showgrid=False),
        showgrid=False, showline=False, zeroline=False, fixedrange=True, tickfont=dict(size=12, family=FONT))
    fig.add_trace(go.Scatter(x=[None], y=[None], xaxis=xa, yaxis="y%d" % k, mode="lines"))


def unz(pairs):
    return [a for a, _ in pairs], [b for _, b in pairs]


def line(key, pairs, color, width=1.3, shape="linear"):
    xa, ya = AX[key]
    t, v = unz(pairs)
    fig.add_trace(go.Scatter(x=t, y=v, mode="lines", line=dict(color=color, width=width, shape=shape),
                             xaxis=xa, yaxis=ya))


def area(key, pairs, color):
    xa, ya = AX[key]
    t, v = unz(pairs)
    fig.add_trace(go.Scatter(x=t, y=v, mode="lines", fill="tozeroy", fillcolor=color,
                             line=dict(color=color, width=1), xaxis=xa, yaxis=ya))


def band(key, segs, color):
    xa, ya = AX[key]
    xs, ys = [], []
    for seg in segs:
        t = [s[0] for s in seg]
        lo = [s[1] for s in seg]
        hi = [s[2] for s in seg]
        xs += t + t[::-1] + [None]
        ys += hi + lo[::-1] + [None]
    fig.add_trace(go.Scatter(x=xs, y=ys, mode="lines", fill="toself", fillcolor=color,
                             line=dict(color=color, width=1.2), xaxis=xa, yaxis=ya))


def pts(key, pairs, color, size=4):
    xa, ya = AX[key]
    t, v = unz(pairs)
    fig.add_trace(go.Scatter(x=t, y=v, mode="markers", marker=dict(symbol="square", size=size, color=color, line=dict(width=0)),
                             xaxis=xa, yaxis=ya))


def bars(key, pairs, color):
    xa, ya = AX[key]
    t, v = unz(pairs)
    fig.add_trace(go.Bar(x=t, y=v, width=0.018, marker=dict(color=color, line=dict(width=0)), xaxis=xa, yaxis=ya))


# ---------------- left window traces ----------------
line("L1", LER, RED); line("L1", HER, BLUE)
band("L2", AVE_L, TOMATO); pts("L2", AVE_L_OUT, TOMATO); line("L2", REP_SET_L, BLACK, 1.3, "hv")
band("L3", QB_L_BAND, QBLUE); band("L3", QG_L_BAND, QGREEN); pts("L3", QG_L_OUT, QGREEN); pts("L3", QB_L_OUT, QBLUE)
band("L4", RATE_L, PURPLE)
band("L5", CYAN_L, CYAN); pts("L5", CYAN_L_OUT, CYAN); band("L5", BLACK_L, BLACK); band("L5", GRAY_L, GRAY)
area("L6", OCS_BLUE_L, BLUE); area("L6", OCS_RED_L, RED)
band("L7", LOSS_L, PINK)
line("L10", SEPT_POS_L, BLUE); line("L11", SEPT_ANG_L, BLUE); line("L12", KICK_H_L, KGREEN)
line("L13", KICK_J_L, KGREEN); line("L14", VPOS_L, RED); line("L15", VANG_L, RED); line("L16", PHASE_L, MAGENTA)

# ---------------- right window traces ----------------
line("R1", LER, RED); line("R1", HER, BLUE)
band("R2", AVE_R, TOMATO); pts("R2", AVE_R_OUT, TOMATO); line("R2", REP_SET_R, BLACK, 1.3, "hv")
band("R3", QB_R_BAND, QBLUE); band("R3", QG_R_BAND, QGREEN)
band("R4", RATE_R, PURPLE)
band("R5", CYAN_R, CYAN); band("R5", BLACK_R, BLACK); pts("R5", BLACK_R_OUT, BLACK); band("R5", GRAY_R, GRAY)
area("R6", OCS_BLUE_R, BLUE); bars("R6", OCS_RED_R, RED)
band("R7", ION_R, PINK); pts("R7", ION_R_OUT, PINK)
band("R8", SIC_R, SICGREEN); pts("R8", SIC_R_OUT, SICGREEN)
line("R9", TEMP_CABLE, BLUE, 1.2); line("R9", TEMP_D8, BLACK, 1.2); line("R9", TEMP_SE1, RED, 1.3)
line("R12", SEPT_POS_R, BLUE); line("R13", SEPT_ANG_R, BLUE, 1.3, "hv"); line("R14", KICK_H_R, KGREEN, 1.3, "hv")
line("R15", KICK_J_R, KGREEN, 1.3, "hv"); line("R16", VPOS_R, RED); line("R17", VANG_R, RED); line("R18", PHASE_R, MAGENTA)

# ---------------- annotations / shapes ----------------
shapes, annots = [], []

for key in TOP_EDGE:
    p = PD[key]
    x0, x1 = COLS[p["col"]]
    shapes.append(dict(type="line", xref="paper", yref="paper", x0=px(x0), x1=px(x1), y0=py(p["top"]), y1=py(p["top"]),
                       line=dict(color="black", width=1)))


def text(x, y, s, size=12, xanchor="center", yanchor="middle", angle=0):
    annots.append(dict(x=px(x), y=py(y), xref="paper", yref="paper", text=s, showarrow=False,
                       xanchor=xanchor, yanchor=yanchor, textangle=angle,
                       font=dict(family=FONT, size=size, color="black")))


for key, s, x, y in TITLES:
    text(x, y, s, 12, angle=-90)
text(61, 442, "x10<sup>6</sup>", 12)
text(847, 525, "x10<sup>7</sup>", 12)
text(727, 405, "Y[mm]", 12, angle=90)
text(1542, 487, "Y[mm]", 12, angle=90)

# time axis labels
for col, ylab, xfirst in [("L", 848, 150), ("R", 899, 954)]:
    x0, x1 = COLS[col]
    step = (x1 - x0) / 9
    text(xfirst, ylab, "1<sup>h</sup>0<sup>m</sup>0<sup>s</sup>", 19, xanchor="left")
    for h in HOURS[2:]:
        text(x0 + h * step, ylab, f"{h}<sup>h</sup>", 19)
text(116, 871, "5/7/2026", 19, xanchor="left")

BOXES = []


def box(x0, y0, x1, y1, fill="white"):
    shapes.append(dict(type="rect", xref="paper", yref="paper", x0=px(x1), x1=px(x1 + 2.5), y0=py(y1 + 2.5), y1=py(y0 + 3),
                       fillcolor="black", line=dict(width=0), layer="above"))
    shapes.append(dict(type="rect", xref="paper", yref="paper", x0=px(x0 + 3), x1=px(x1 + 2.5), y0=py(y1 + 2.5), y1=py(y1),
                       fillcolor="black", line=dict(width=0), layer="above"))
    shapes.append(dict(type="rect", xref="paper", yref="paper", x0=px(x0), x1=px(x1), y0=py(y1), y1=py(y0),
                       fillcolor=fill, line=dict(color="black", width=1), layer="above"))
    BOXES.append((x0, y0, x1, y1))


def dot(x, y, color):
    shapes.append(dict(type="circle", xref="paper", yref="paper", x0=px(x - 2.3), x1=px(x + 2.3), y0=py(y + 2.3),
                       y1=py(y - 2.3), fillcolor=color, line=dict(width=0), layer="above"))


def seg(x0, x1, y, color):
    shapes.append(dict(type="line", xref="paper", yref="paper", x0=px(x0), x1=px(x1), y0=py(y), y1=py(y),
                       line=dict(color=color, width=1.3), layer="above"))


# left legends
box(697.3, 30.7, 797.3, 96); seg(704, 743, 49.3, RED); seg(704, 743, 77.3, BLUE)
text(749, 49.3, "LER", 23, "left"); text(749, 77.3, "HER", 23, "left")
box(726.7, 87.3, 797.3, 114); dot(734.3, 100, TOMATO); text(790, 100, "Ave.", 13, "right")
box(662.7, 128.3, 797.3, 174); dot(670, 141, QBLUE); dot(670, 159, QGREEN)
text(695, 141, "QMD7P_1(nC)", 13, "left"); text(695, 159, "QMF10P_2(nC)", 13, "left")
box(694.3, 180.7, 797.3, 207.3); dot(702.3, 193.3, PURPLE); text(790, 193.3, "Inj.Rate", 13, "right")
box(726.7, 232.7, 797.3, 295); dot(734.3, 245, CYAN); dot(734.3, 263.3, BLACK)
text(790, 245, "DCCT", 13, "right"); text(790, 263.3, "BCM1", 13, "right"); text(790, 281.7, "BCM2", 13, "right")
box(691.7, 290.7, 797.3, 336); seg(698.3, 737.3, 303.3, RED); seg(698.3, 737.3, 321, BLUE)
text(790, 303.3, "FW_225", 13, "right"); text(790, 321, "FW_135", 13, "right")
box(750.7, 397.3, 797.3, 424); dot(758.3, 410.7, BLUE); text(790, 410.7, "X", 13, "right")

# right legends
box(1499.3, 30.7, 1599.3, 96.7); seg(1506, 1546, 49.3, BLUE); seg(1506, 1546, 77.3, RED)
text(1551, 49.3, "HER", 23, "left"); text(1551, 77.3, "LER", 23, "left")
box(1528.3, 86, 1599.3, 112.7); dot(1536, 98.3, TOMATO); text(1592.7, 98.3, "Ave.", 13, "right")
box(1472.7, 124.3, 1599.3, 169.3); dot(1480, 137.3, QGREEN); dot(1480, 155, QBLUE)
text(1505, 137.3, "QMD8E_2(nC)", 13, "left"); text(1505, 155, "QMD8E_1(nC)", 13, "left")
box(1496, 174, 1599.3, 201.7); dot(1504, 187.3, PURPLE); text(1592.7, 187.3, "Inj.Rate", 13, "right")
box(1528.3, 223.3, 1599.3, 286); dot(1536, 236, CYAN); dot(1536, 254.3, BLACK)
text(1592.7, 236, "DCCT", 13, "right"); text(1592.7, 254.3, "BCM1", 13, "right"); text(1592.7, 272.7, "BCM2", 13, "right")
box(1493.3, 279.3, 1599.3, 324.3); seg(1500, 1540, 292.3, RED); seg(1500, 1540, 310, BLUE)
text(1592.7, 292.3, "BW_180", 13, "right"); text(1592.7, 310, "BW_270", 13, "right")
box(1480.7, 329.3, 1599.3, 356.7); dot(1488.3, 342.7, PINK); text(1592.7, 342.7, "InjP BPM_d", 13, "right")
box(1512.7, 378.3, 1599.3, 405.7); dot(1520, 391.7, SICGREEN); text(1592.7, 391.7, "QI4E_d", 13, "right")
box(1453.3, 427.3, 1599.3, 490, fill="rgba(0,0,0,0)"); seg(1460, 1499.3, 440, RED); seg(1460, 1499.3, 458.3, BLACK)
seg(1460, 1499.3, 476, BLUE)
text(1505, 440, "SE1 middle", 13, "left"); text(1505, 458.3, "D8 room", 13, "left"); text(1505, 476, "SE1P cable", 13, "left")
box(1552.7, 480.7, 1599.3, 507.3); dot(1560, 493.3, BLUE); text(1592.7, 493.3, "X", 13, "right")

for (x0, y0, x1, y1) in BOXES:
    shapes.append(dict(type="rect", xref="paper", yref="paper", x0=px(x0), x1=px(x1), y0=py(y1), y1=py(y0),
                       fillcolor="rgba(0,0,0,0)", line=dict(color="black", width=1), layer="above"))

# window borders
for (a, b) in [(0, 2.5), (800, 803.5), (1602.5, 1606)]:
    shapes.append(dict(type="rect", xref="paper", yref="paper", x0=px(a), x1=px(b), y0=0, y1=1,
                       fillcolor="#d4d4d4", line=dict(width=0), layer="above"))

lay["shapes"] = shapes
lay["annotations"] = annots
fig.update_layout(**lay)
fig.write_html("out.html")
